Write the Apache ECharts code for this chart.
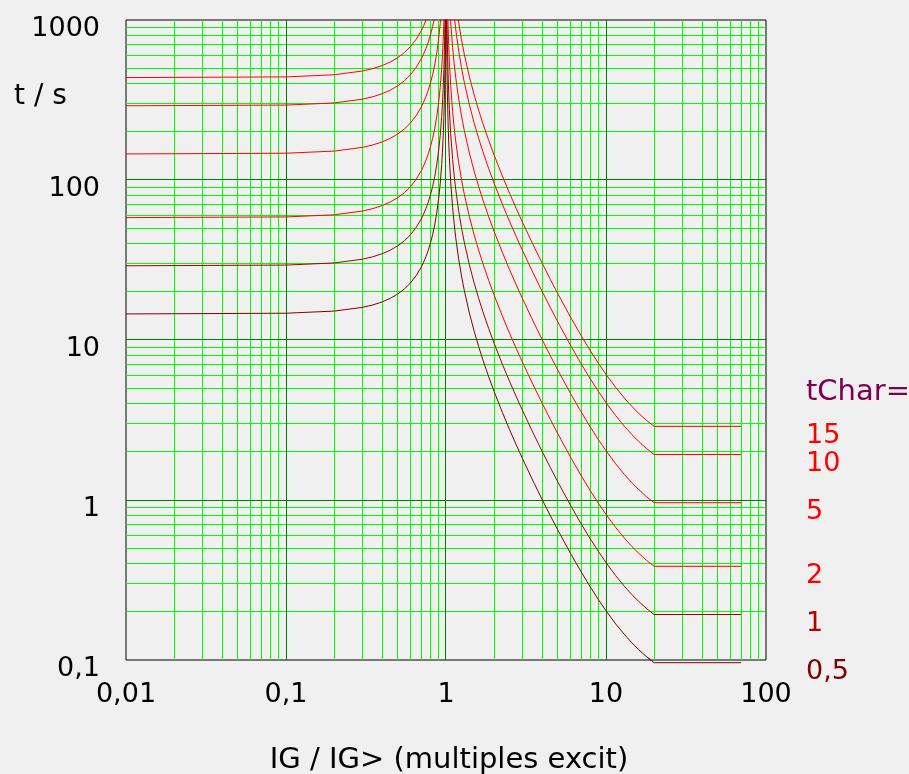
<!DOCTYPE html>
<html>
<head>
<meta charset="utf-8">
<script src="https://cdn.jsdelivr.net/npm/echarts@6/dist/echarts.min.js"></script>
<style>
  html, body { margin: 0; padding: 0; background: #f0f0f0; }
  #chart { width: 909px; height: 774px; }
</style>
</head>
<body>
<div id="chart"></div>
<script>
//  x: IG / IG> (Vielfache)
const multiples = [
    //  unter 1
    0.01, 0.1, 0.2, 0.3, 0.35, 0.4, 0.45, 0.5, 0.55, 0.6,
    0.65, 0.7, 0.725, 0.75, 0.775, 0.8, 0.825, 0.85, 0.875, 0.9,
    0.92, 0.94, 0.95, 0.96, 0.97, 0.975, 0.98, 0.985, 0.99, 0.995,
    0.998,
    //  über 1
    1.002, 1.005, 1.0075, 1.01, 1.015, 1.02, 1.03, 1.04, 1.05, 1.07,
    1.1, 1.125, 1.15, 1.2, 1.25, 1.3, 1.4, 1.5, 1.6, 1.7,
    1.85, 2, 2.25, 2.5, 2.75, 3, 3.5, 4, 4.5, 5,
    6, 7, 8, 9, 10, 11.5, 13, 14.5, 16, 18,
    20, 70
];

//  t / s je Kennlinie (null = ausserhalb 1000 s)
const tChar05 = [
    14.55, 14.70, 15.16, 15.99, 16.58, 17.32, 18.25, 19.40, 20.86, 22.74,
    25.20, 28.53, 30.67, 33.26, 36.43, 40.42, 45.56, 52.43, 62.08, 76.58,
    94.73, 125.0, 149.2, 185.6, 246.2, 294.7, 367.4, 488.7, 731.2, 1458.7,
    null,
    null, 1406.5, 936.5, 701.6, 466.5, 349.1, 231.6, 172.9, 137.6, 97.35,
    67.2, 53.15, 43.78, 32.11, 25.13, 20.50, 14.75, 11.34, 9.10, 7.52,
    5.88, 4.76, 3.53, 2.745, 2.210, 1.824, 1.314, 1.001, 0.794, 0.649,
    0.464, 0.355, 0.285, 0.237, 0.203, 0.168, 0.145, 0.128, 0.116, 0.1045,
    0.0962, 0.0962
];
const tChar1 = [
    29.10, 29.39, 30.31, 31.98, 33.16, 34.64, 36.49, 38.80, 41.72, 45.47,
    50.39, 57.06, 61.34, 66.51, 72.86, 80.83, 91.11, 104.9, 124.2, 153.2,
    189.5, 250.0, 298.5, 371.2, 492.4, 589.4, 734.9, 977.3, 1462, null,
    null,
    null, null, null, 1403, 933.0, 698.1, 463.2, 345.7, 275.2, 194.7,
    134.4, 106.3, 87.56, 64.21, 50.25, 40.99, 29.50, 22.68, 18.20, 15.04,
    11.76, 9.52, 7.06, 5.49, 4.419, 3.647, 2.628, 2.002, 1.587, 1.297,
    0.927, 0.709, 0.569, 0.474, 0.4065, 0.3366, 0.2896, 0.2565, 0.2323, 0.2090,
    0.1924, 0.1924
];
const tChar2 = [
    58.20, 58.78, 60.62, 63.96, 66.32, 69.28, 72.98, 77.60, 83.44, 90.94,
    100.8, 114.1, 122.7, 133.0, 145.7, 161.7, 182.2, 209.7, 248.3, 306.3,
    378.9, 500.0, 596.9, 742.3, 984.8, 1178.7, null, null, null, null,
    null,
    null, null, null, null, null, 1396, 926.4, 691.4, 550.4, 389.4,
    268.8, 212.6, 175.1, 128.4, 100.5, 81.98, 59.0, 45.36, 36.40, 30.08,
    23.52, 19.04, 14.12, 10.98, 8.838, 7.294, 5.256, 4.004, 3.174, 2.594,
    1.854, 1.418, 1.138, 0.948, 0.813, 0.673, 0.579, 0.513, 0.465, 0.418,
    0.385, 0.385
];
const tChar5 = [
    145.5, 147.0, 151.6, 159.9, 165.8, 173.2, 182.5, 194.0, 208.6, 227.4,
    252.0, 285.3, 306.7, 332.6, 364.3, 404.2, 455.6, 524.3, 620.8, 765.8,
    947.3, 1250, null, null, null, null, null, null, null, null,
    null,
    null, null, null, null, null, null, null, null, 1376, 973.5,
    672.0, 531.5, 437.8, 321.1, 251.3, 205.0, 147.5, 113.4, 91.0, 75.2,
    58.8, 47.6, 35.3, 27.45, 22.10, 18.24, 13.14, 10.01, 7.935, 6.485,
    4.635, 3.545, 2.845, 2.370, 2.033, 1.683, 1.448, 1.283, 1.162, 1.045,
    0.962, 0.962
];
const tChar10 = [
    291.0, 293.9, 303.1, 319.8, 331.6, 346.4, 364.9, 388.0, 417.2, 454.7,
    503.9, 570.6, 613.4, 665.1, 728.6, 808.3, 911.1, 1048.6, null, null,
    null, null, null, null, null, null, null, null, null, null,
    null,
    null, null, null, null, null, null, null, null, null, null,
    null, 1063, 875.6, 642.1, 502.5, 409.9, 295.0, 226.8, 182.0, 150.4,
    117.6, 95.2, 70.6, 54.9, 44.19, 36.47, 26.28, 20.02, 15.87, 12.97,
    9.27, 7.09, 5.69, 4.74, 4.065, 3.366, 2.896, 2.565, 2.323, 2.090,
    1.924, 1.924
];
const tChar15 = [
    436.5, 440.9, 454.7, 479.7, 497.4, 519.6, 547.4, 582.0, 625.8, 682.1,
    755.9, 855.9, 920.1, 997.7, 1092.9, null, null, null, null, null,
    null, null, null, null, null, null, null, null, null, null,
    null,
    null, null, null, null, null, null, null, null, null, null,
    null, null, 1313, 963.2, 753.8, 614.9, 442.5, 340.2, 273.0, 225.6,
    176.4, 142.8, 105.9, 82.35, 66.29, 54.71, 39.42, 30.03, 23.81, 19.46,
    13.91, 10.64, 8.54, 7.11, 6.10, 5.05, 4.34, 3.85, 3.48, 3.135,
    2.886, 2.886
];

const curveNames = ['0,5', '1', '2', '5', '10', '15'];
const curveValues = [tChar05, tChar1, tChar2, tChar5, tChar10, tChar15];
const curveColors = ['#800000', '#a00000', '#ff0000', '#ff0000', '#ff0000', '#ff0000'];
const labelColors = ['#800000', '#b40000', '#ff0000', '#ff0000', '#ff0000', '#ff0000'];

const xTickLabels = ['0,01', '0,1', '1', '10', '100'];
const yTickLabels = ['0,1', '1', '10', '100', '1000'];

const X_MIN = 0.01, X_MAX = 100, Y_MIN = 0.1, Y_MAX = 1000;
const FONT = 'DejaVu Sans';

//  Gitterlinien: 2..9 je Dekade hellgrün, Dekaden dunkelgrün
function minorLines(decades) {
    const out = [];
    decades.forEach(function (d) {
        for (let k = 2; k <= 9; k++) out.push(Number((k * d).toPrecision(6)));
    });
    return out;
}
const gridLines = [];
minorLines([0.01, 0.1, 1, 10]).forEach(v => gridLines.push([v, 0, 0]));
minorLines([0.1, 1, 10, 100]).forEach(v => gridLines.push([v, 1, 0]));
[0.1, 1, 10].forEach(v => gridLines.push([v, 0, 1]));
[1, 10, 100].forEach(v => gridLines.push([v, 1, 1]));

//  auf Pixelmitte legen, sonst werden die 1px-Linien verwaschen
function snap(p) {
    return Math.floor(p) + 0.5;
}

function renderGridLine(params, api) {
    const v = api.value(0);
    const horizontal = api.value(1) === 1;
    let shape;
    if (horizontal) {
        const a = api.coord([X_MIN, v]), b = api.coord([X_MAX, v]);
        const y = snap(a[1]);
        shape = {x1: a[0], y1: y, x2: b[0], y2: y};
    } else {
        const a = api.coord([v, Y_MIN]), b = api.coord([v, Y_MAX]);
        const x = snap(a[0]);
        shape = {x1: x, y1: a[1], x2: x, y2: b[1]};
    }
    return {
        type: 'line',
        shape: shape,
        style: {stroke: api.value(2) === 1 ? '#008000' : '#00ff00', lineWidth: 1}
    };
}

//  Punkte ohne Werte fallen weg (liegen über 1000 s und werden abgeschnitten)
function pairs(values) {
    const out = [];
    values.forEach(function (v, i) {
        if (v !== null) out.push([multiples[i], v]);
    });
    return out;
}

const series = [{
    type: 'custom',
    name: 'grid',
    data: gridLines,
    dimensions: ['v', 'dir', 'major'],
    encode: {x: -1, y: -1},
    renderItem: renderGridLine,
    silent: true,
    z: 1
}];

curveValues.forEach(function (values, i) {
    series.push({
        type: 'line',
        name: curveNames[i],
        data: pairs(values),
        symbol: 'none',
        clip: true,
        z: 3,
        lineStyle: {color: curveColors[i], width: 1},
        emphasis: {disabled: true}
    });
});

//  0,5: waagrechtes Ende liegt knapp unter 0,1
series.push({
    type: 'line',
    name: '0,5 Ende',
    data: pairs(tChar05).slice(-3),
    symbol: 'none',
    clip: false,
    z: 3,
    lineStyle: {color: curveColors[0], width: 1},
    emphasis: {disabled: true}
});

const chart = echarts.init(document.getElementById('chart'));
chart.setOption({
    backgroundColor: '#f0f0f0',
    animation: false,
    grid: {
        left: 126, top: 20, width: 640, height: 640,
        show: true, borderColor: '#000', borderWidth: 1, backgroundColor: 'transparent',
        outerBoundsMode: 'none'
    },
    xAxis: {
        type: 'log', logBase: 10, min: X_MIN, max: X_MAX,
        axisLine: {show: false},
        axisTick: {show: false},
        splitLine: {show: false},
        axisLabel: {
            color: '#000', fontFamily: FONT, fontSize: 27, margin: 21,
            formatter: v => xTickLabels[Math.round(Math.log10(v)) + 2]
        }
    },
    yAxis: {
        type: 'log', logBase: 10, min: Y_MIN, max: Y_MAX,
        axisLine: {show: false},
        axisTick: {show: false},
        splitLine: {show: false},
        axisLabel: {
            color: '#000', fontFamily: FONT, fontSize: 27, margin: 26,
            verticalAlign: 'top', lineHeight: 18,
            formatter: v => yTickLabels[Math.round(Math.log10(v)) + 1]
        }
    },
    series: series
});

//  Beschriftungen, rechts an den waagrechten Enden
const texts = [
    {type: 'text', x: 14, y: 97, style: {text: 't / s', fill: '#000', fontSize: 28, fontFamily: FONT, verticalAlign: 'middle'}},
    {type: 'text', x: 449, y: 760, style: {text: 'IG / IG> (multiples excit)', fill: '#000', fontSize: 29, fontFamily: FONT, align: 'center', verticalAlign: 'middle'}},
    {type: 'text', x: 806, y: 392, style: {text: 'tChar=', fill: '#800050', fontSize: 29, fontFamily: FONT, verticalAlign: 'middle'}}
];
curveValues.forEach(function (values, i) {
    const last = values.length - 1;
    const y = chart.convertToPixel({xAxisIndex: 0, yAxisIndex: 0}, [multiples[last], values[last]])[1] + 9.5;
    texts.push({type: 'text', x: 806, y: y, style: {text: curveNames[i], fill: labelColors[i], fontSize: 27, fontFamily: FONT, verticalAlign: 'middle'}});
});
chart.setOption({graphic: texts});
</script>
</body>
</html>
